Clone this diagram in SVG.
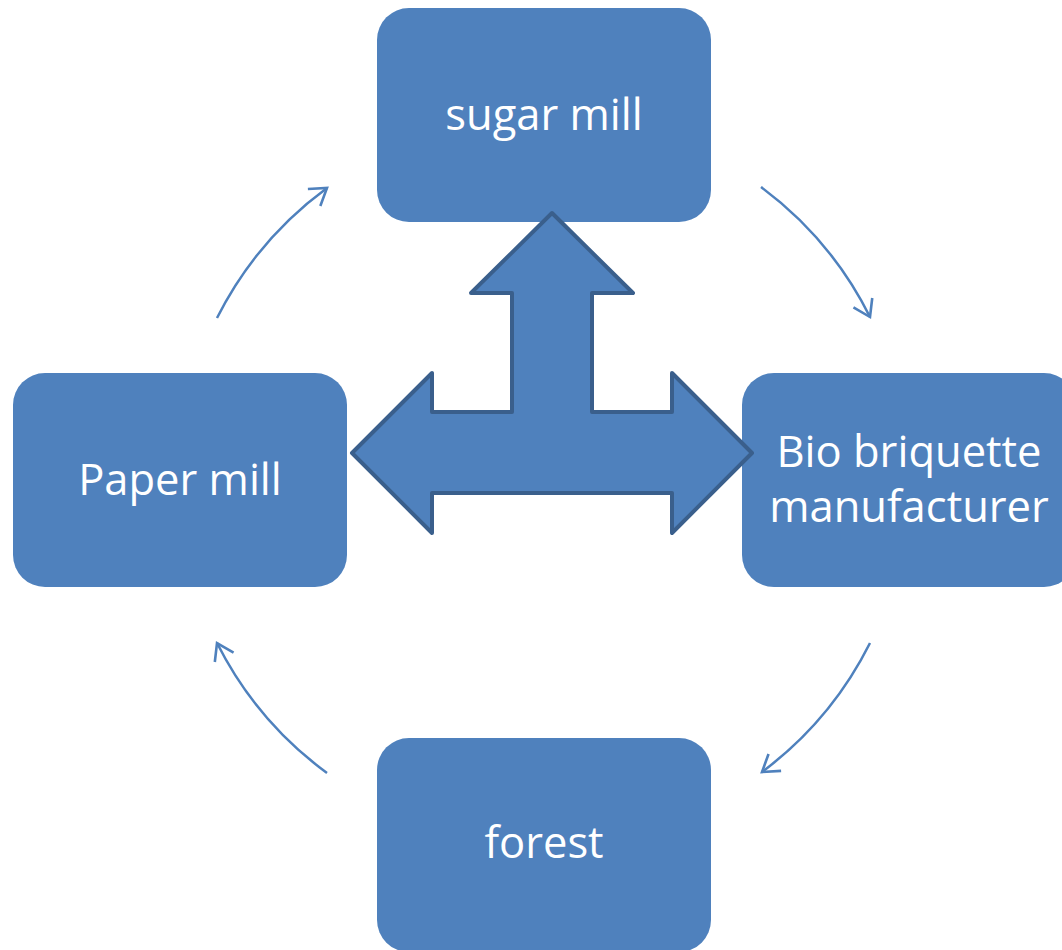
<svg xmlns="http://www.w3.org/2000/svg" width="1062" height="950" viewBox="0 0 1062 950">
<defs>
<style>
.box{fill:#4f81bd;}
.lbl{fill:#ffffff;font-family:"Open Sans","Noto Sans",sans-serif;font-size:43.5px;text-anchor:middle;}
.conn{fill:none;stroke:#4f81bd;stroke-width:2.5;}
.big{fill:#4f81bd;stroke:#3a5f8c;stroke-width:4;stroke-linejoin:round;}
</style>
<marker id="ah" markerUnits="userSpaceOnUse" markerWidth="30" markerHeight="30" viewBox="-20 -15 30 30" refX="0" refY="0" orient="auto">
<path d="M-16,-10.5 L0,0 L-16,10.5" fill="none" stroke="#4f81bd" stroke-width="2.6"/>
</marker>
</defs>
<rect width="1062" height="950" fill="#ffffff"/>
<g id="sugar-mill">
<rect class="box" x="377" y="8" width="334" height="214" rx="32"/>
<text class="lbl" x="544" y="130">sugar mill</text>
</g>
<g id="paper-mill">
<rect class="box" x="13" y="373" width="334" height="214" rx="32"/>
<text class="lbl" x="180" y="495">Paper mill</text>
</g>
<g id="bio-briquette">
<rect class="box" x="742" y="373" width="334" height="214" rx="32"/>
<text class="lbl" x="909" y="467">Bio briquette</text>
<text class="lbl" x="909" y="522">manufacturer</text>
</g>
<g id="forest">
<rect class="box" x="377" y="738" width="334" height="214" rx="32"/>
<text class="lbl" x="544" y="858">forest</text>
</g>
<g id="hub-arrow">
<path class="big" d="M552,213 L633,293 L592,293 L592,412 L672,412 L672,373 L752,453 L672,533 L672,493 L432,493 L432,533 L352,453 L432,373 L432,412 L512,412 L512,293 L471,293 Z"/>
</g>
<g id="connectors">
<path class="conn" marker-end="url(#ah)" d="M217,318 A365,365 0 0,1 327,188"/>
<path class="conn" marker-end="url(#ah)" d="M761,187 A365,365 0 0,1 870,317"/>
<path class="conn" marker-end="url(#ah)" d="M870,643 A365,365 0 0,1 762,772"/>
<path class="conn" marker-end="url(#ah)" d="M327,773 A365,365 0 0,1 217,643"/>
</g>
</svg>
